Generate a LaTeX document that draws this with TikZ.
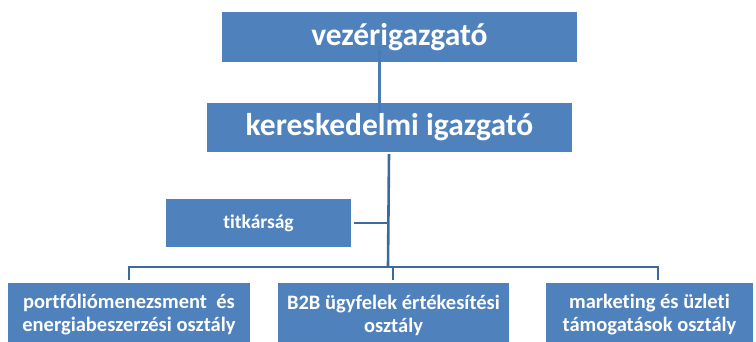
\documentclass[tikz,border=0pt]{standalone}
\usepackage{fontspec}
\setmainfont{Carlito}[Ligatures=NoCommon]
\definecolor{boxblue}{HTML}{4F81BD}
\definecolor{linedark}{HTML}{3D6A9E}
\begin{document}
\begin{tikzpicture}[x=1pt,y=-1pt,
  orgbox/.style={fill=boxblue, draw=none, text=white, font=\bfseries, inner sep=0pt, align=center},
  conn/.style={draw=linedark, line width=2.6pt},
  connlight/.style={draw=boxblue!95!black, line width=3pt}]
\useasboundingbox (0,0) rectangle (756,342);
\node[orgbox, minimum width=355, minimum height=50, font=\bfseries\fontsize{31.5}{36}\selectfont] (ceo) at (399.5,37) {vezérigazgató};
\node[orgbox, minimum width=365, minimum height=49, font=\bfseries\fontsize{31.5}{36}\selectfont] (ker) at (389.5,127.5) {kereskedelmi igazgató};
\node[orgbox, minimum width=185, minimum height=48, font=\bfseries\fontsize{19.5}{22}\selectfont] (tit) at (258.5,223) {titkárság};
\node[orgbox, minimum width=242, minimum height=64, font=\bfseries\fontsize{20.5}{23}\selectfont] (por) at (129,315) {portfóliómenezsment~~és\\energiabeszerzési osztály};
\node[orgbox, minimum width=231, minimum height=64, font=\bfseries\fontsize{20.5}{23}\selectfont] (b2b) at (393.5,315) {B2B ügyfelek értékesítési\\osztály};
\node[orgbox, minimum width=207, minimum height=64, font=\bfseries\fontsize{20.5}{23}\selectfont] (mkt) at (649.5,315) {marketing és üzleti\\támogatások osztály};
\coordinate (j1) at (388,223);
\coordinate (j2) at (388,267);
\draw[connlight] (379,50) -- (379,113);
\draw[conn] (389,154) -- (388,267);
\draw[conn] (tit.east) ++(3,0) -- (j1);
\draw[conn] (129,280) |- (658,267) -- (658,280);
\draw[conn] (393,267) -- (393,280);
\end{tikzpicture}
\end{document}
